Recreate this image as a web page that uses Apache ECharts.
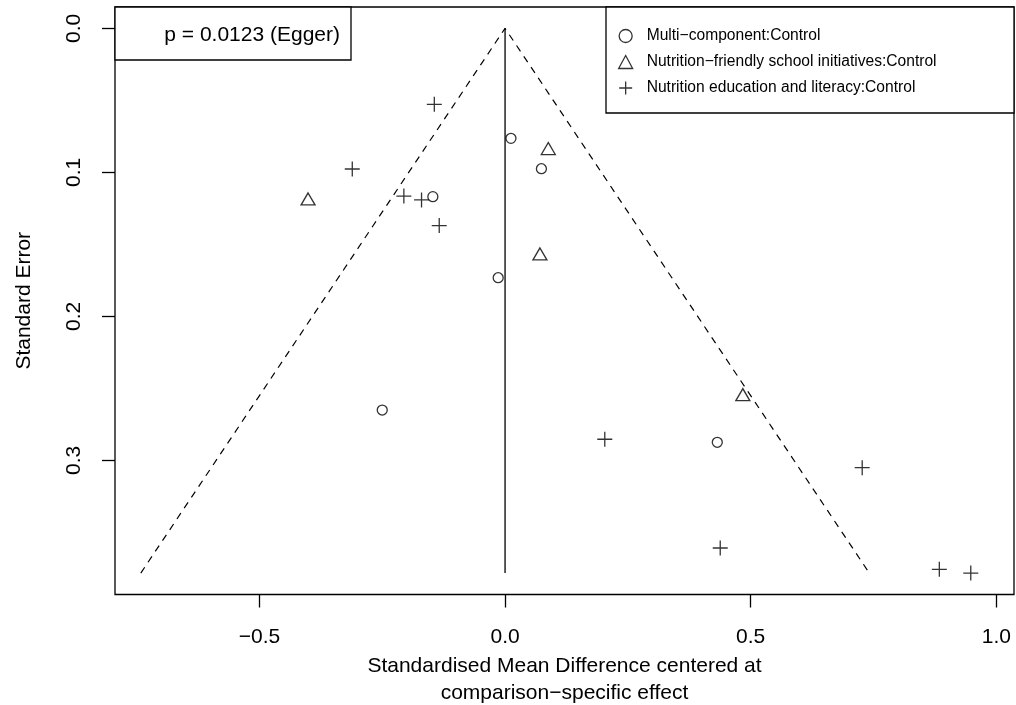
<!DOCTYPE html>
<html>
<head>
<meta charset="utf-8">
<script src="https://cdn.jsdelivr.net/npm/echarts@6/dist/echarts.min.js"></script>
<style>
  html, body { margin: 0; padding: 0; background: #fff; }
  #chart { width: 1016px; height: 705px; }
</style>
</head>
<body>
<div id="chart"></div>
<script>
// centred SMD (x) and standard error (y) per comparison
const multiX  = [0.012, 0.074, -0.147, -0.014, -0.250, 0.432];
const multiSE = [0.0764, 0.0975, 0.1169, 0.1732, 0.2651, 0.2875];

const friendlyX  = [0.088, -0.401, 0.071, 0.484];
const friendlySE = [0.0835, 0.1185, 0.1567, 0.2544];

const eduX  = [-0.144, -0.311, -0.206, -0.170, -0.134, 0.203, 0.727, 0.438, 0.884, 0.948];
const eduSE = [0.0528, 0.0977, 0.1165, 0.1192, 0.137, 0.2854, 0.3051, 0.3609, 0.3757, 0.3783];

const seriesNames = [
  "Multi\u2212component:Control",
  "Nutrition\u2212friendly school initiatives:Control",
  "Nutrition education and literacy:Control"
];

const xTicks = [-0.5, 0, 0.5, 1.0];
const yTicks = [0, 0.1, 0.2, 0.3];
const eggerText = "p = 0.0123 (Egger)";

const font = "'Liberation Sans', Arial, sans-serif";
const plusPath = "path://M0,7.5L15,7.5M7.5,0L7.5,15";

const pairs = (xs, ys) => xs.map((x, i) => [x, ys[i]]);
const seMax = Math.max(...multiSE, ...friendlySE, ...eduSE);
const funnelHalf = 1.96 * seMax;
const fmt = v => v.toFixed(1).replace("-", "\u2212");

const hollow = { color: "transparent", borderColor: "#000", borderWidth: 1.3 };

const chart = echarts.init(document.getElementById("chart"));
chart.setOption({
  animation: false,
  textStyle: { fontFamily: font },
  grid: {
    left: 115, right: 2, top: 7, bottom: 110.5,
    outerBoundsMode: "none",
    containLabel: false,
    show: true, borderColor: "#000", borderWidth: 1.3, backgroundColor: "transparent"
  },
  xAxis: {
    type: "value",
    min: -0.794, max: 1.036,
    name: "Standardised Mean Difference centered at\ncomparison\u2212specific effect",
    nameLocation: "middle",
    nameGap: 55,
    nameTextStyle: { fontSize: 21, color: "#000", lineHeight: 27, fontFamily: font },
    axisLine: { show: false, onZero: false },
    splitLine: { show: false },
    axisTick: { show: true, length: 13, lineStyle: { color: "#000", width: 1.3 }, customValues: xTicks },
    axisLabel: { fontSize: 21, color: "#000", margin: 32, customValues: xTicks, formatter: fmt }
  },
  yAxis: {
    type: "value",
    inverse: true,
    min: -0.0148, max: 0.3932,
    name: "Standard Error",
    nameLocation: "middle",
    nameRotate: 90,
    nameGap: 80,
    nameTextStyle: { fontSize: 21, color: "#000", fontFamily: font },
    axisLine: { show: false, onZero: false },
    splitLine: { show: false },
    axisTick: { show: true, length: 13, lineStyle: { color: "#000", width: 1.3 }, customValues: yTicks },
    axisLabel: { fontSize: 21, color: "#000", margin: 30, rotate: 90, customValues: yTicks, formatter: fmt }
  },
  legend: {
    orient: "vertical",
    left: 618, top: 28,
    padding: 0,
    itemWidth: 14, itemHeight: 13, itemGap: 10,
    selectedMode: false,
    textStyle: { fontSize: 15.6, color: "#000", lineHeight: 16, fontFamily: font, padding: [0, 0, 0, 9] },
    data: [
      { name: seriesNames[0], icon: "circle", itemStyle: hollow },
      { name: seriesNames[1], icon: "triangle", itemStyle: hollow },
      { name: seriesNames[2], icon: plusPath, itemStyle: hollow }
    ]
  },
  graphic: [
    {
      type: "rect", z: 10,
      shape: { x: 115, y: 7, width: 236, height: 53 },
      style: { fill: "#fff", stroke: "#000", lineWidth: 1.3 }
    },
    {
      type: "text", z: 11, x: 340, y: 35,
      style: { text: eggerText, font: "21px " + font, fill: "#000", align: "right", verticalAlign: "middle" }
    },
    {
      type: "rect", z: 0,
      shape: { x: 606, y: 7, width: 408, height: 106 },
      style: { fill: "#fff", stroke: "#000", lineWidth: 1.3 }
    }
  ],
  series: [
    {
      type: "line", silent: true, symbol: "none",
      data: [[-funnelHalf, seMax], [0, 0], [funnelHalf, seMax]],
      lineStyle: { color: "#000", width: 1.2, type: [7, 6] }
    },
    {
      type: "line", silent: true, symbol: "none",
      data: [[0, 0], [0, seMax]],
      lineStyle: { color: "#000", width: 1.3 }
    },
    {
      name: seriesNames[0], type: "scatter", silent: true,
      symbol: "circle", symbolSize: 10,
      itemStyle: hollow,
      data: pairs(multiX, multiSE)
    },
    {
      name: seriesNames[1], type: "scatter", silent: true,
      symbol: "triangle", symbolSize: [14, 12],
      itemStyle: hollow,
      data: pairs(friendlyX, friendlySE)
    },
    {
      name: seriesNames[2], type: "scatter", silent: true,
      symbol: plusPath, symbolSize: 15,
      itemStyle: hollow,
      data: pairs(eduX, eduSE)
    }
  ]
});
</script>
</body>
</html>
